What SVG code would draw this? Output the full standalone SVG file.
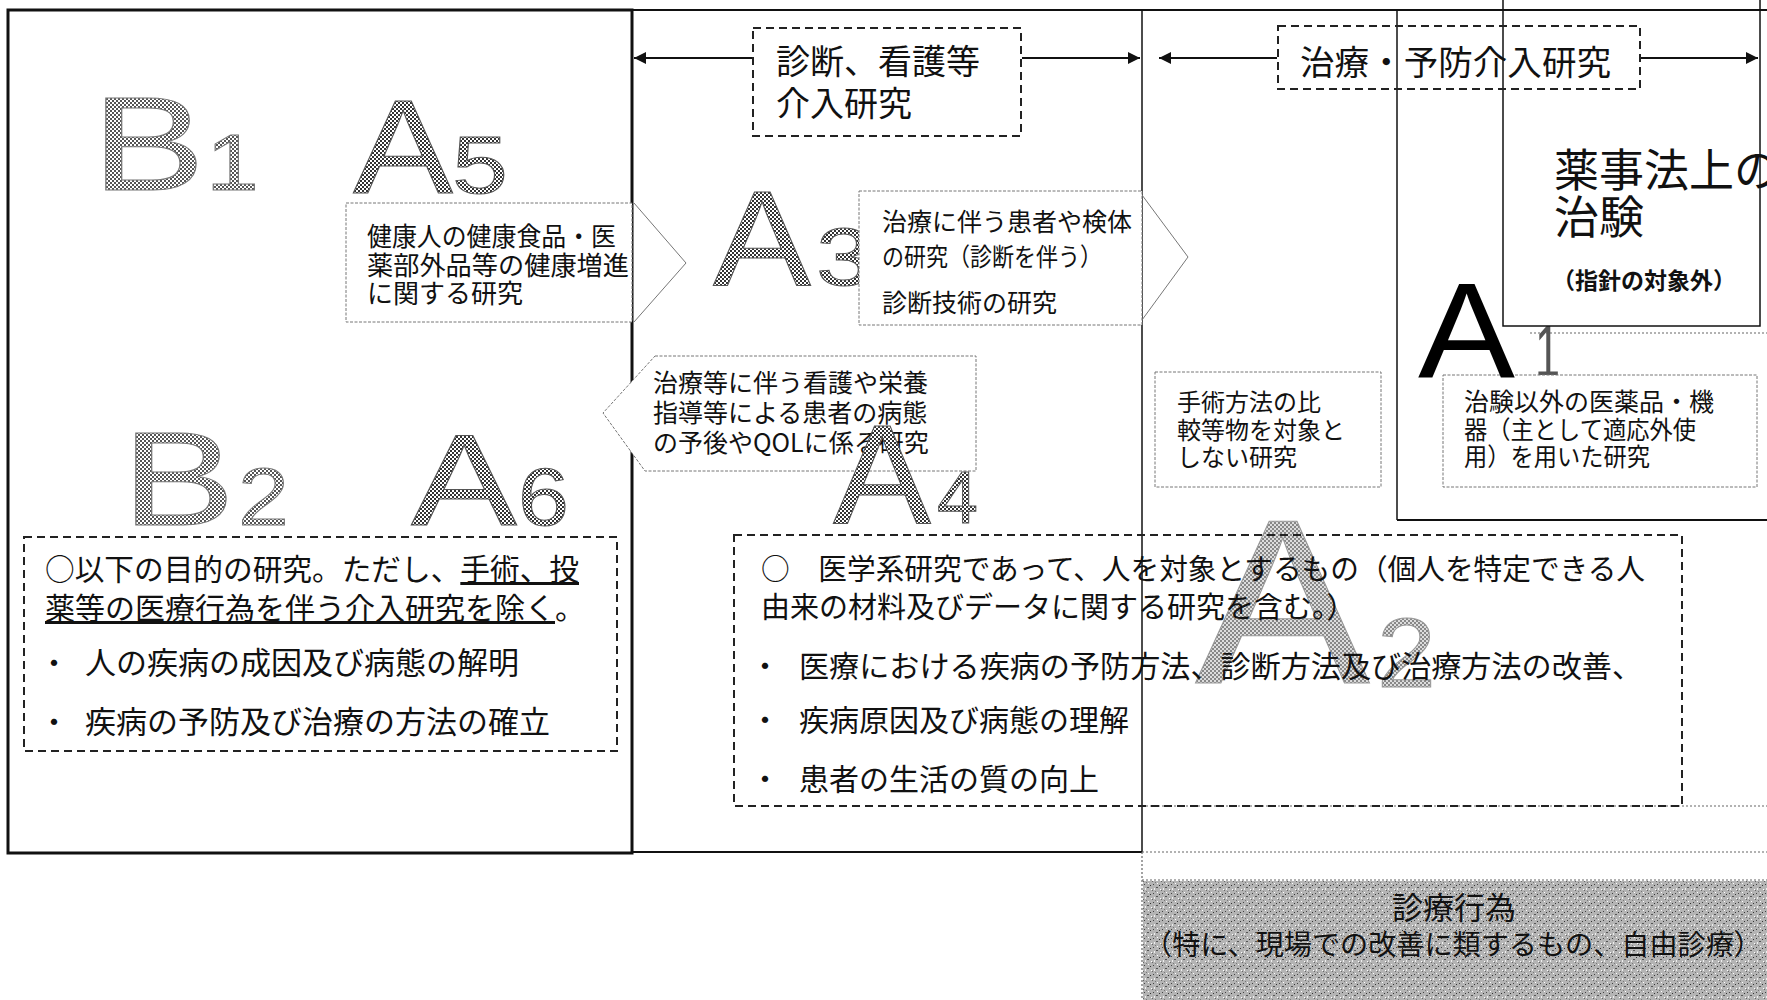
<svg xmlns="http://www.w3.org/2000/svg" width="1767" height="1000" viewBox="0 0 1767 1000">
<style>
.jp{font-family:"Noto Sans CJK JP","Noto Sans CJK SC",sans-serif;fill:#111}
.lat{font-family:"Liberation Sans",Arial,sans-serif}
.ln{stroke:#111;fill:none}
.dash{stroke:#222;fill:none;stroke-width:2;stroke-dasharray:8 5}
.thin{stroke:#777;fill:#fff;stroke-width:1;stroke-dasharray:3 1.5}
.chev{stroke:#777;fill:none;stroke-width:1}
.dot{stroke:#666;fill:none;stroke-width:1.2;stroke-dasharray:2 2}
.htA{fill:url(#htA);stroke:#555;stroke-width:1}
.htB{fill:url(#htB);stroke:#777;stroke-width:1}
.htC{fill:url(#htC);stroke:#999;stroke-width:1}
.ul{text-decoration:underline}
</style>
<defs>
<pattern id="htA" width="4" height="4" patternUnits="userSpaceOnUse"><rect width="4" height="4" fill="#fff"/><rect width="2" height="2" fill="#333"/><rect x="2" y="2" width="2" height="2" fill="#333"/></pattern>
<pattern id="htB" width="4" height="4" patternUnits="userSpaceOnUse"><rect width="4" height="4" fill="#fff"/><rect width="2" height="2" fill="#555"/><rect x="2" y="2" width="2" height="2" fill="#555"/></pattern>
<pattern id="htC" width="4" height="4" patternUnits="userSpaceOnUse"><rect width="4" height="4" fill="#ddd"/><rect width="2" height="2" fill="#888"/><rect x="2" y="2" width="2" height="2" fill="#888"/></pattern>
<pattern id="grain" width="9" height="9" patternUnits="userSpaceOnUse"><rect width="9" height="9" fill="#b4b4b4"/><rect x="1" y="2" width="1" height="1" fill="#444"/><rect x="4" y="5" width="2" height="1" fill="#555"/><rect x="5" y="1" width="1" height="1" fill="#fff"/><rect x="2" y="6" width="1" height="2" fill="#eee"/><rect x="7" y="3" width="1" height="1" fill="#333"/><rect x="0" y="8" width="1" height="1" fill="#666"/><rect x="8" y="7" width="1" height="1" fill="#fff"/><rect x="3" y="0" width="1" height="1" fill="#777"/></pattern>
<marker id="ah" viewBox="0 0 10 10" refX="10" refY="5" markerWidth="14" markerHeight="12" markerUnits="userSpaceOnUse" orient="auto-start-reverse"><path d="M0,0 L10,5 L0,10 z" fill="#111"/></marker>
</defs>
<rect width="1767" height="1000" fill="#fff"/>

<g id="frame">
<line class="ln" x1="632" y1="10" x2="1767" y2="10" stroke-width="2"/>
<rect class="ln" x="8" y="10" width="624" height="843" stroke-width="3"/>
<line class="ln" x1="632" y1="852" x2="1142" y2="852" stroke-width="2"/>
<line class="ln" x1="1142" y1="10" x2="1142" y2="852" stroke-width="1.5"/>
<line class="dot" x1="1142" y1="852" x2="1142" y2="1000"/>
<line class="dot" x1="1142" y1="852" x2="1767" y2="852"/>
<line class="dot" x1="1142" y1="880" x2="1767" y2="880"/>
<line class="dot" x1="1142" y1="806" x2="1767" y2="806" stroke="#999"/>
<line class="ln" x1="1397" y1="10" x2="1397" y2="520" stroke-width="1.5"/>
<line class="ln" x1="1397" y1="520" x2="1767" y2="520" stroke-width="2"/>
<line class="dot" x1="1530" y1="333" x2="1767" y2="333" stroke="#bbb"/>
</g>

<g id="shinryo">
<rect x="1143" y="881" width="624" height="119" fill="url(#grain)"/>
<text class="jp" x="1454" y="919" font-size="31" text-anchor="middle">診療行為</text>
<text class="jp" x="1144" y="955" font-size="28" textLength="618" lengthAdjust="spacingAndGlyphs">（特に、現場での改善に類するもの、自由診療）</text>
</g>

<!-- letters behind boxes -->
<text class="lat htA" x="816" y="285" font-size="82" textLength="56" lengthAdjust="spacingAndGlyphs">3</text>
<text class="lat" x="1535" y="377" font-size="75" textLength="25" lengthAdjust="spacingAndGlyphs" fill="#555">1</text>

<g id="a5-box">
<rect class="thin" x="346" y="203" width="286" height="119"/>
<path class="chev" d="M634,203 L686,263 L634,322"/>
<text class="jp" x="367" y="246" font-size="26" textLength="249" lengthAdjust="spacingAndGlyphs">健康人の健康食品・医</text>
<text class="jp" x="367" y="275" font-size="26" textLength="262" lengthAdjust="spacingAndGlyphs">薬部外品等の健康増進</text>
<text class="jp" x="367" y="303" font-size="26">に関する研究</text>
</g>

<g id="a3-box">
<rect class="thin" x="859" y="191" width="283" height="134"/>
<path class="chev" d="M1142,195 L1188,257 L1142,320"/>
<text class="jp" x="882" y="231" font-size="25">治療に伴う患者や検体</text>
<text class="jp" x="882" y="266" font-size="25" textLength="220" lengthAdjust="spacingAndGlyphs">の研究（診断を伴う）</text>
<text class="jp" x="882" y="312" font-size="25">診断技術の研究</text>
</g>

<g id="a4-box">
<path class="thin" d="M655,356 L976,356 L976,471 L645,471 L603,413 Z" fill="none"/>
<text class="jp" x="653" y="392" font-size="25">治療等に伴う看護や栄養</text>
<text class="jp" x="653" y="422" font-size="25">指導等による患者の病態</text>
<text class="jp" x="653" y="452" font-size="25">の予後やQOLに係る研究</text>
</g>

<g id="chiken">
<rect class="ln" x="1503" y="-5" width="257" height="331" fill="#fff" stroke-width="1.5"/>
<text class="jp" x="1554" y="187" font-size="45">薬事法上の</text>
<text class="jp" x="1554" y="234" font-size="45">治験</text>
<text class="jp" x="1552" y="289" font-size="23" font-weight="bold">（指針の対象外）</text>
</g>

<g id="shujutsu-box">
<rect class="thin" x="1155" y="372" width="226" height="115"/>
<text class="jp" x="1177" y="411" font-size="24">手術方法の比</text>
<text class="jp" x="1177" y="439" font-size="24">較等物を対象と</text>
<text class="jp" x="1177" y="466" font-size="24">しない研究</text>
</g>

<g id="a1-box">
<rect class="thin" x="1443" y="375" width="314" height="112"/>
<text class="jp" x="1464" y="411" font-size="25">治験以外の医薬品・機</text>
<text class="jp" x="1464" y="439" font-size="25" textLength="232" lengthAdjust="spacingAndGlyphs">器（主として適応外使</text>
<text class="jp" x="1464" y="466" font-size="25" textLength="186" lengthAdjust="spacingAndGlyphs">用）を用いた研究</text>
</g>

<g id="header-shindan">
<rect class="dash" x="753" y="28" width="268" height="108" fill="#fff"/>
<text class="jp" x="776" y="74" font-size="34">診断、看護等</text>
<text class="jp" x="776" y="116" font-size="34">介入研究</text>
</g>

<g id="header-chiryo">
<rect class="dash" x="1278" y="26" width="362" height="63" fill="#fff"/>
<text class="jp" x="1300" y="75" font-size="34" textLength="311" lengthAdjust="spacingAndGlyphs">治療・予防介入研究</text>
</g>

<g id="connectors">
<line class="ln" x1="752" y1="58" x2="634" y2="58" stroke-width="2" marker-end="url(#ah)"/>
<line class="ln" x1="1022" y1="58" x2="1140" y2="58" stroke-width="2" marker-end="url(#ah)"/>
<line class="ln" x1="1277" y1="58" x2="1159" y2="58" stroke-width="2" marker-end="url(#ah)"/>
<line class="ln" x1="1641" y1="58" x2="1758" y2="58" stroke-width="2" marker-end="url(#ah)"/>
</g>

<g id="labels">
<text class="lat htB" x="92" y="190" font-size="133" textLength="113" lengthAdjust="spacingAndGlyphs">B</text>
<text class="lat htB" x="206" y="190" font-size="80" textLength="53" lengthAdjust="spacingAndGlyphs">1</text>
<text class="lat htA" x="353" y="193" font-size="133" textLength="100" lengthAdjust="spacingAndGlyphs">A</text>
<text class="lat htA" x="452" y="193" font-size="82" textLength="56" lengthAdjust="spacingAndGlyphs">5</text>
<text class="lat htA" x="713" y="285" font-size="136" textLength="98" lengthAdjust="spacingAndGlyphs">A</text>
<text class="lat htB" x="122" y="525" font-size="133" textLength="113" lengthAdjust="spacingAndGlyphs">B</text>
<text class="lat htB" x="238" y="525" font-size="81" textLength="51" lengthAdjust="spacingAndGlyphs">2</text>
<text class="lat htA" x="411" y="525" font-size="130" textLength="106" lengthAdjust="spacingAndGlyphs">A</text>
<text class="lat htA" x="518" y="525" font-size="81" textLength="51" lengthAdjust="spacingAndGlyphs">6</text>
<text class="lat htA" x="833" y="523" font-size="141" textLength="98" lengthAdjust="spacingAndGlyphs">A</text>
<text class="lat htA" x="937" y="523" font-size="74" textLength="41" lengthAdjust="spacingAndGlyphs">4</text>
<text class="lat htC" x="1195" y="683" font-size="235" textLength="175" lengthAdjust="spacingAndGlyphs">A</text>
<text class="lat htC" x="1377" y="687" font-size="98" textLength="59" lengthAdjust="spacingAndGlyphs">2</text>
<text class="lat" x="1418" y="377" font-size="136" textLength="97" lengthAdjust="spacingAndGlyphs" fill="#000">A</text>
</g>

<g id="b-box">
<rect class="dash" x="24" y="537" width="593" height="214"/>
<text class="jp" x="45" y="580" font-size="30" textLength="534" lengthAdjust="spacingAndGlyphs">○以下の目的の研究。ただし、<tspan class="ul">手術、投</tspan></text>
<text class="jp" x="45" y="619" font-size="30"><tspan class="ul">薬等の医療行為を伴う介入研究を除く</tspan>。</text>
<text class="jp" x="39" y="674" font-size="30">・</text>
<text class="jp" x="85" y="674" font-size="31">人の疾病の成因及び病態の解明</text>
<text class="jp" x="39" y="733" font-size="30">・</text>
<text class="jp" x="85" y="733" font-size="31">疾病の予防及び治療の方法の確立</text>
</g>

<g id="a-box">
<rect class="dash" x="734" y="535" width="948" height="271"/>
<text class="jp" x="761" y="580" font-size="29" textLength="884" lengthAdjust="spacingAndGlyphs">○　医学系研究であって、人を対象とするもの（個人を特定できる人</text>
<text class="jp" x="761" y="618" font-size="29">由来の材料及びデータに関する研究を含む。）</text>
<text class="jp" x="750" y="677" font-size="30">・</text>
<text class="jp" x="799" y="677" font-size="30" textLength="843" lengthAdjust="spacingAndGlyphs">医療における疾病の予防方法、診断方法及び治療方法の改善、</text>
<text class="jp" x="750" y="731" font-size="30">・</text>
<text class="jp" x="799" y="731" font-size="30">疾病原因及び病態の理解</text>
<text class="jp" x="750" y="790" font-size="30">・</text>
<text class="jp" x="799" y="790" font-size="30">患者の生活の質の向上</text>
</g>
</svg>
